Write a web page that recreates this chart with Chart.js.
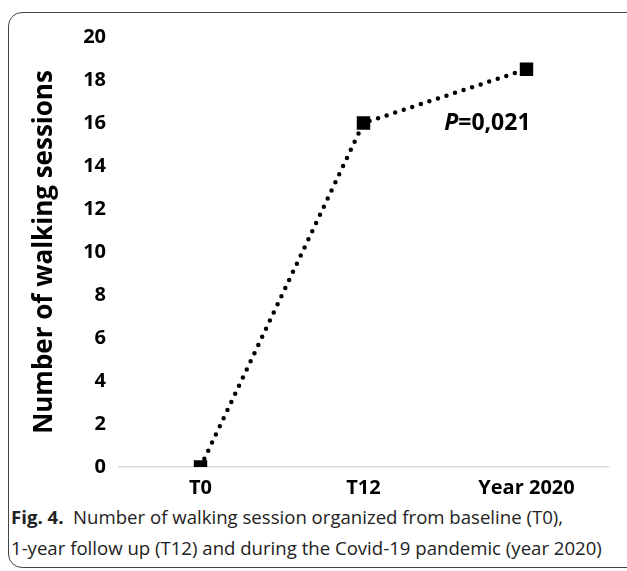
<!DOCTYPE html>
<html>
<head>
<meta charset="utf-8">
<script src="https://cdn.jsdelivr.net/npm/chart.js@4"></script>
<style>
  body { margin: 0; background: #fff; }
  #box {
    position: absolute; left: 8px; top: 12px; width: 640px; height: 554px;
    border: 1.5px solid #444; border-radius: 14px;
  }
  #wrap { position: absolute; left: 0; top: 0; width: 627px; height: 500px; }
  #cap {
    position: absolute; left: 11px; top: 501px; width: 616px; white-space: nowrap;
    font-family: "Open Sans", sans-serif; font-size: 18.6px; line-height: 31px; color: #222;
  }
  #cap b { font-weight: 700; }
</style>
</head>
<body>
<div id="box"></div>
<div id="wrap"><canvas id="chart" width="627" height="500"></canvas></div>
<div id="cap"><b>Fig. 4.</b>&nbsp; Number of walking session organized from baseline (T0),<br>1-year follow up (T12) and during the Covid-19 pandemic (year 2020)</div>
<script>
const categories = ['T0', 'T12', 'Year 2020'];
const sessions = [0, 16, 18.5];
const yTicks = [0, 2, 4, 6, 8, 10, 12, 14, 16, 18, 20];

const FONT = '"Open Sans"';

const pLabel = {
  id: 'pLabel',
  afterDatasetsDraw(chart) {
    const ctx = chart.ctx;
    const x = chart.scales.x.getPixelForValue(1.76);
    const y = chart.scales.y.getPixelForValue(16);
    ctx.save();
    ctx.fillStyle = '#000';
    ctx.textBaseline = 'middle';
    ctx.font = 'italic bold 23px ' + FONT;
    const w1 = ctx.measureText('P').width;
    ctx.font = 'bold 23px ' + FONT;
    const w2 = ctx.measureText('=0,021').width;
    const start = x - (w1 + w2) / 2;
    ctx.font = 'italic bold 23px ' + FONT;
    ctx.fillText('P', start, y);
    ctx.font = 'bold 23px ' + FONT;
    ctx.fillText('=0,021', start + w1, y);
    ctx.restore();
  }
};

new Chart(document.getElementById('chart'), {
  type: 'line',
  plugins: [pLabel],
  data: {
    labels: categories,
    datasets: [{
      data: sessions,
      borderColor: '#000',
      borderWidth: 4.5,
      borderDash: [0, 9],
      borderCapStyle: 'round',
      pointStyle: 'rect',
      pointRadius: 9.5,
      pointBackgroundColor: '#000',
      pointBorderWidth: 0,
      fill: false,
      tension: 0,
    }]
  },
  options: {
    responsive: false,
    animation: false,
    layout: { padding: { top: 37, right: 19, left: 0, bottom: 0 } },
    plugins: {
      legend: { display: false },
      tooltip: { enabled: false },
    },
    scales: {
      x: {
        offset: true,
        grid: { display: false, drawTicks: false },
        border: { display: true, color: '#d9d9d9', width: 1.5 },
        ticks: { color: '#000', font: { family: FONT, size: 20, weight: 'bold' }, padding: 9 },
        afterFit(scale) { scale.height = 33; },
      },
      y: {
        min: 0,
        max: 20,
        afterBuildTicks(scale) { scale.ticks = yTicks.map(v => ({ value: v })); },
        grid: { display: false, drawTicks: false },
        border: { display: false },
        ticks: { color: '#000', font: { family: FONT, size: 20, weight: 'bold' }, padding: 13 },
        title: {
          display: true,
          text: 'Number of walking sessions',
          color: '#000',
          font: { family: FONT, size: 26, weight: 'bold' },
          padding: { top: 29, bottom: 0 },
        },
        afterFit(scale) { scale.width = 119; },
      }
    }
  }
});
</script>
</body>
</html>
